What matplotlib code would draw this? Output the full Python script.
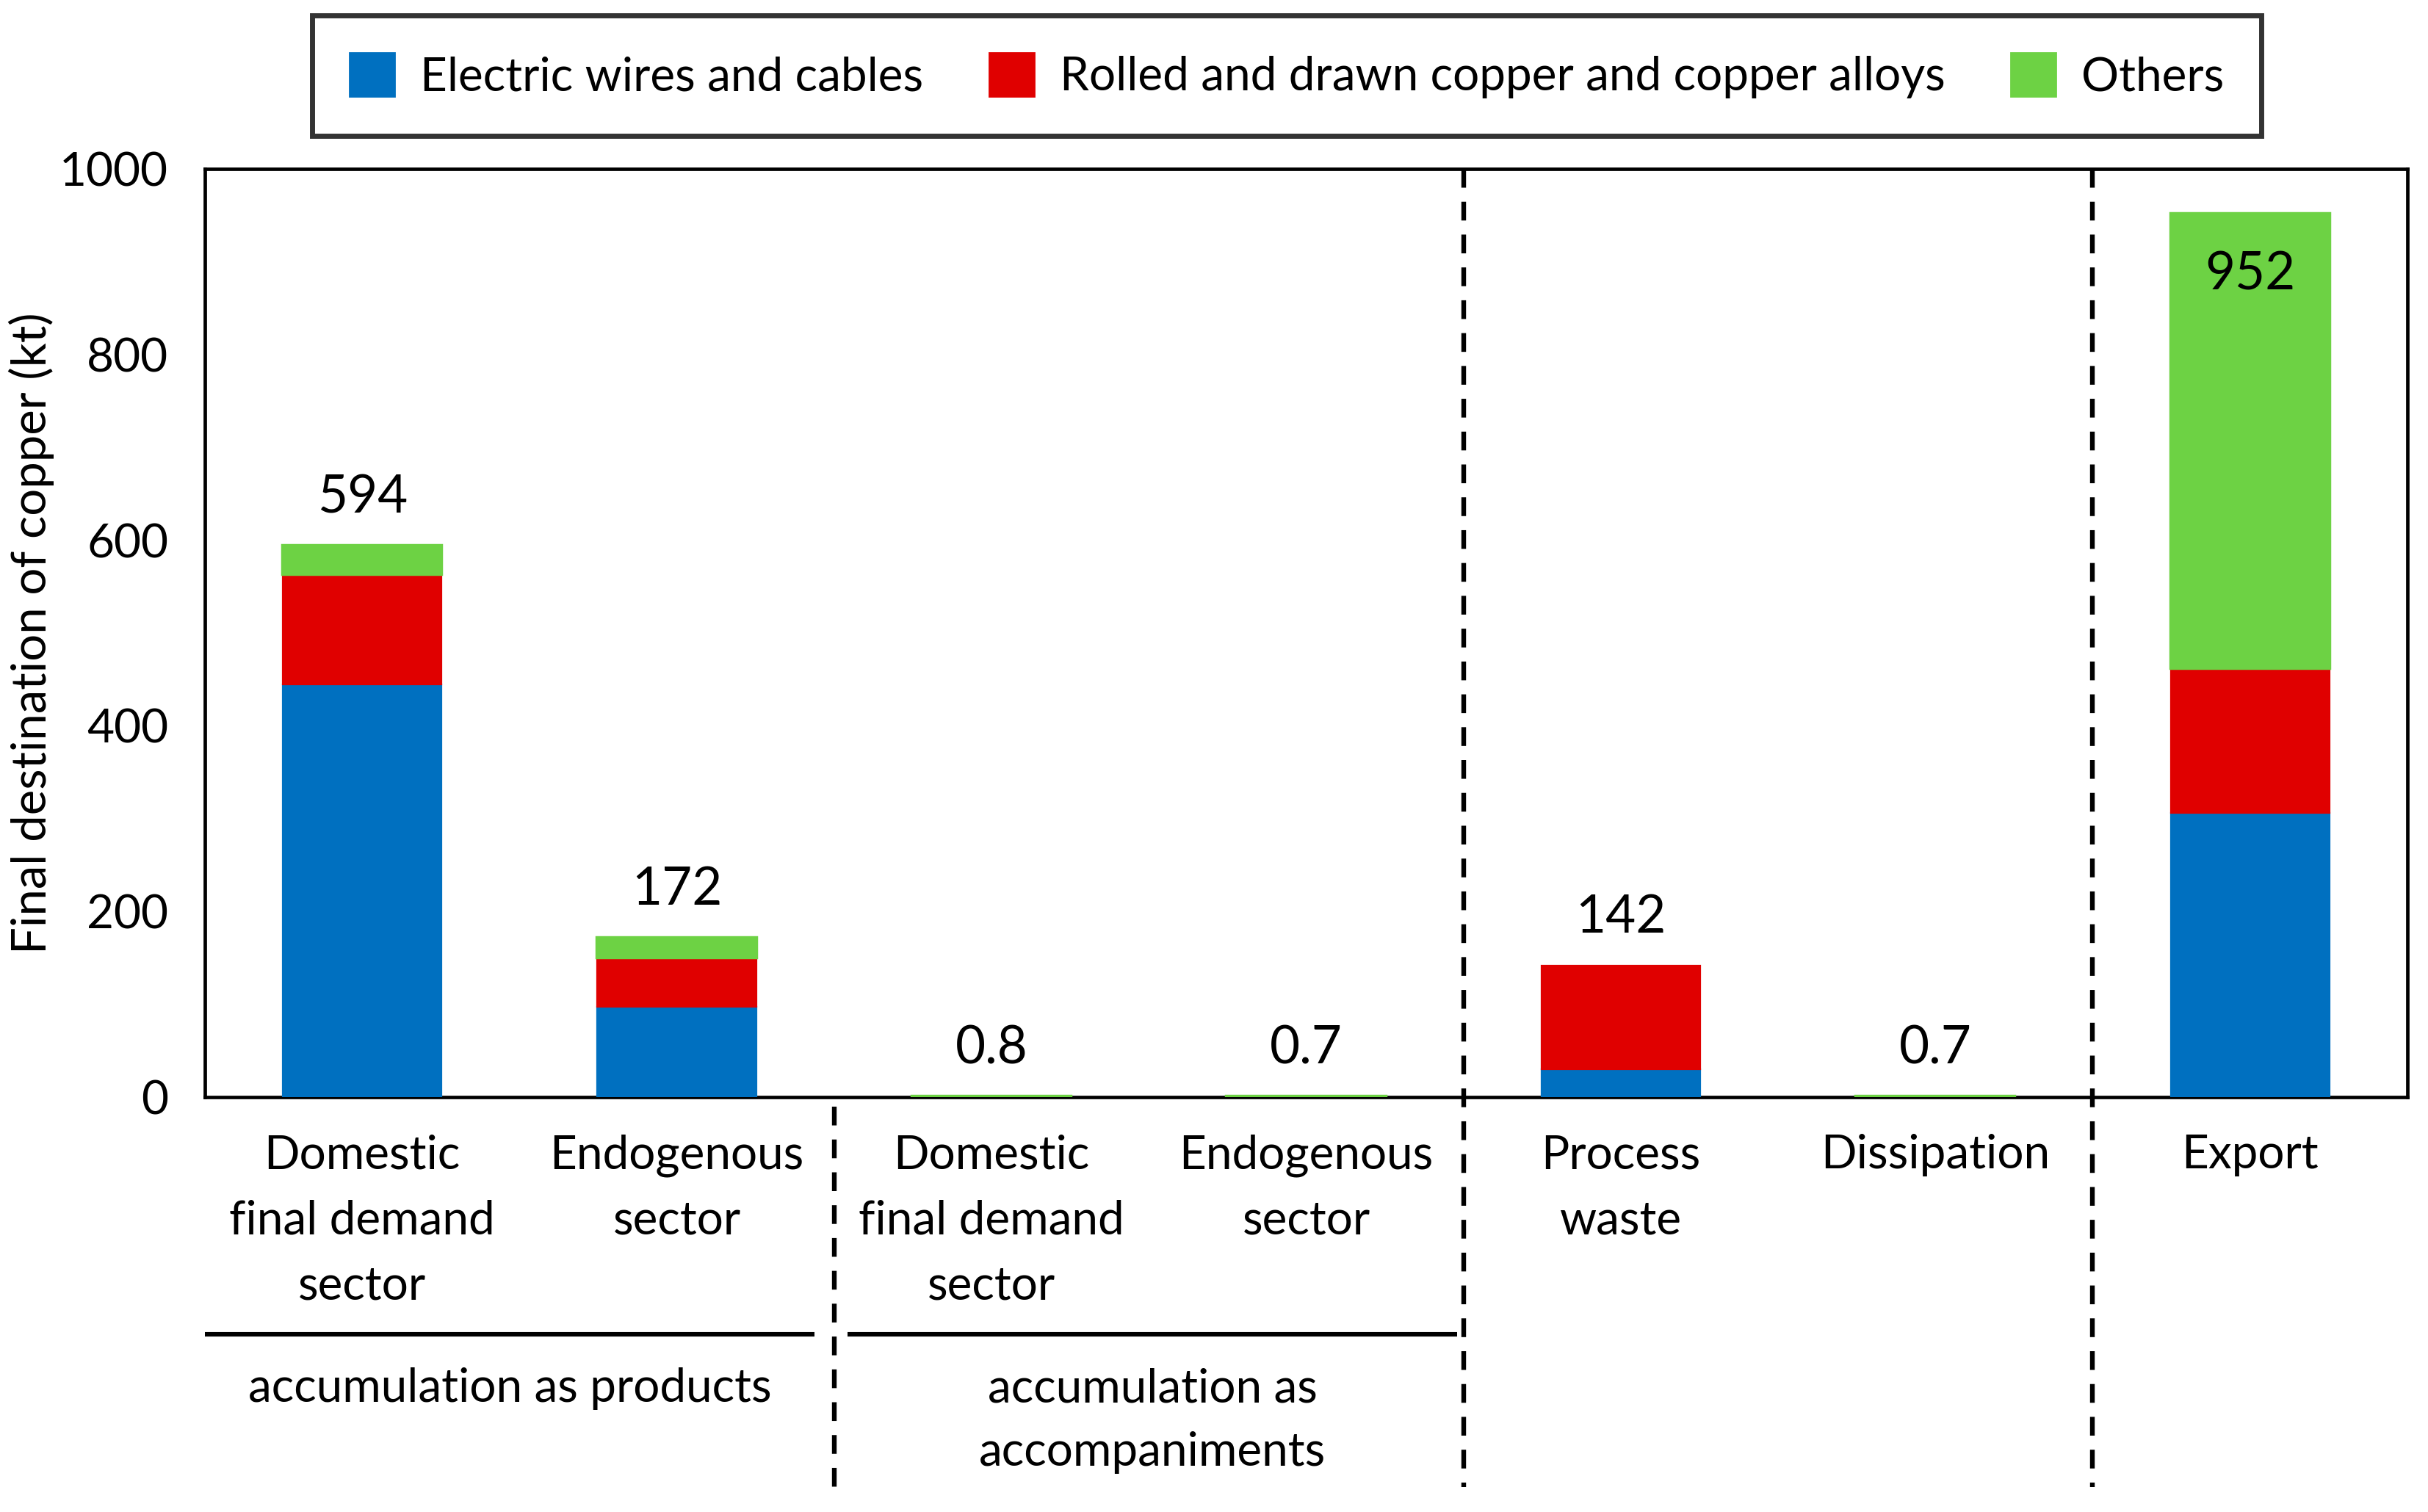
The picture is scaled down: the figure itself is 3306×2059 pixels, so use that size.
import matplotlib
matplotlib.use("Agg")
import matplotlib.pyplot as plt
from matplotlib.patches import Patch
import numpy as np

# ---- data ----
categories = ["Domestic\nfinal demand\nsector", "Endogenous\nsector",
              "Domestic\nfinal demand\nsector", "Endogenous\nsector",
              "Process\nwaste", "Dissipation", "Export"]
electric = [445, 97, 0, 0, 30, 0, 306]
rolled = [118, 53, 0, 0, 112, 0, 156]
others = [31, 22, 0.8, 0.7, 0, 0.7, 490]
total_labels = ["594", "172", "0.8", "0.7", "142", "0.7", "952"]
series_names = ["Electric wires and cables",
                "Rolled and drawn copper and copper alloys", "Others"]
group_labels = ["accumulation as products", "accumulation as\naccompaniments"]
yticks = [0, 200, 400, 600, 800, 1000]

plt.rcParams['font.family'] = ['Lato', 'DejaVu Sans']
FS = 23
LS = 1.66
colors = ['#0070C0', '#E00000', '#6DD244']

fig = plt.figure(figsize=(3306 / 200, 2059 / 200), dpi=200)
ax = fig.add_axes([0.0844, 0.2744, 0.9071, 0.6139])

x = np.arange(len(categories))
bottom = np.zeros(len(x))
for vals, col, name, lw in zip([electric, rolled, others], colors, series_names, [0.8, 0.8, 1.6]):
    lws = [lw if v > 0 else 0 for v in vals]
    ax.bar(x, vals, width=0.505, bottom=bottom, color=col, label=name,
           zorder=4, edgecolor=col, linewidth=lws)
    bottom = bottom + np.array(vals, dtype=float)

totals = bottom
for i, (t, lab) in enumerate(zip(totals, total_labels)):
    off = -30 if t > 900 else 23.5
    ax.annotate(lab, (i, t), xytext=(0, off), textcoords='offset points',
                ha='center', va='center', fontsize=25.5, zorder=6)

ax.set_xlim(-0.5, 6.5)
ax.set_ylim(0, 1000)
ax.set_yticks(yticks)
ax.set_yticklabels([str(v) for v in yticks])
ax.set_xticks(x)
ax.set_xticklabels(categories, linespacing=LS)
ax.tick_params(axis='both', length=0, labelsize=FS)
ax.tick_params(axis='y', pad=18)
ax.tick_params(axis='x', pad=18)
for sp in ax.spines.values():
    sp.set_linewidth(1.7)
    sp.set_color('black')
    sp.set_zorder(3)

ax.set_ylabel("Final destination of copper (kt)", fontsize=23.5)
ax.yaxis.set_label_coords(-0.0684, 0.5)

# separators
trans = ax.get_xaxis_transform()
dash = (0, (4, 3))
ax.plot([1.5, 1.5], [-0.01, -0.43], transform=trans, clip_on=False,
        color='black', lw=2.3, linestyle=dash)
for xv in [3.5, 5.5]:
    ax.plot([xv, xv], [1.0, -0.42], transform=trans, clip_on=False,
            color='black', lw=2.3, linestyle=dash, zorder=1)
ax.plot([-0.5, 1.437], [-0.2555, -0.2555], transform=trans, clip_on=False,
        color='black', lw=2.2, solid_capstyle='butt')
ax.plot([1.543, 3.48], [-0.2555, -0.2555], transform=trans, clip_on=False,
        color='black', lw=2.2, solid_capstyle='butt')

ax.text((-0.5 + 1.437) / 2, -0.2915, group_labels[0], transform=trans,
        ha='center', va='top', fontsize=FS, linespacing=LS)
ax.text((1.543 + 3.48) / 2, -0.2915, group_labels[1], transform=trans,
        ha='center', va='top', fontsize=FS, linespacing=1.6)

handles = [Patch(facecolor=c, edgecolor=c, label=n) for c, n in zip(colors, series_names)]
leg = fig.legend(handles=handles, loc='upper center', bbox_to_anchor=(0.530, 0.990),
                 ncol=3, frameon=True, fancybox=False, edgecolor='black',
                 fontsize=FS, handlelength=0.95, handleheight=1.05,
                 handletextpad=0.55, columnspacing=1.4, borderpad=0.8,
                 borderaxespad=0)
leg.get_frame().set_linewidth(2.5)

fig.savefig("out.png", dpi=200)
